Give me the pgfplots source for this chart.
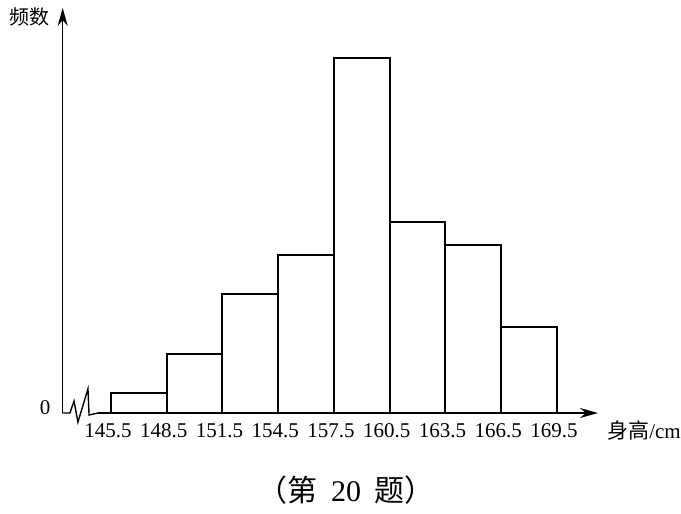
\documentclass[border=0pt]{standalone}
\usepackage{pgfplots}
\pgfplotsset{compat=1.18}
\usepackage{fontspec}
\setmainfont{Liberation Serif}
\newfontfamily\cjk{Noto Sans CJK SC}
\usetikzlibrary{arrows.meta}
\begin{document}
\begin{tikzpicture}
\begin{axis}[
  scale only axis,
  width=267.6pt, height=202.5pt,
  xmin=142.9, xmax=171.71, ymin=0, ymax=20.54,
  clip=false,
  axis line style={draw=none},
  xtick={145.5,148.5,151.5,154.5,157.5,160.5,163.5,166.5,169.5},
  xticklabels={145.5,148.5,151.5,154.5,157.5,160.5,163.5,166.5,169.5},
  ytick=\empty,
  major tick length=0pt,
  /pgf/number format/assume math mode=true,
  xticklabel style={font=\fontsize{10.5}{12}\selectfont, anchor=center, yshift=-9pt, xshift=-1.5pt},
]
% axes
\draw[line width=0.7pt, -{Stealth[length=9pt,width=5pt]}] (axis cs:142.9,0) -- (axis cs:142.9,20.54);
\draw[line width=0.7pt] (axis cs:142.9,0) -- (axis cs:143.29,0) -- (axis cs:143.51,0.61) -- (axis cs:143.72,-0.46) -- (axis cs:144.26,1.22) -- (axis cs:144.32,-0.10) -- (axis cs:144.80,0);
\draw[line width=0.7pt, -{Stealth[length=9pt,width=5pt]}] (axis cs:144.80,0) -- (axis cs:171.71,0);
\addplot[ybar interval, draw=black, fill=none, line width=1pt] coordinates {
 (145.5,1.0) (148.5,3.0) (151.5,6.05) (154.5,8.0) (157.5,18.0) (160.5,9.7) (163.5,8.5) (166.5,4.35) (169.5,4.35)
};
\node[font=\cjk\fontsize{10}{12}\selectfont] at (axis cs:141.14,20.08) {频数};
\node[font=\fontsize{10.5}{12}\selectfont] at (axis cs:141.95,0.25) {0};
\node[font=\fontsize{10.5}{12}\selectfont] at (axis cs:174.19,-0.91) {{\cjk 身高}/cm};
\node[font=\fontsize{15}{18}\selectfont] at (axis cs:158.15,-3.9) {{\cjk （第}\hspace{0.45em}20\hspace{0.45em}{\cjk 题）}};
\coordinate (bl) at (axis cs:139.526,-5.071);
\coordinate (tr) at (axis cs:176.178,20.943);
\end{axis}
\pgfresetboundingbox
\useasboundingbox (bl) rectangle (tr);
\end{tikzpicture}
\end{document}
